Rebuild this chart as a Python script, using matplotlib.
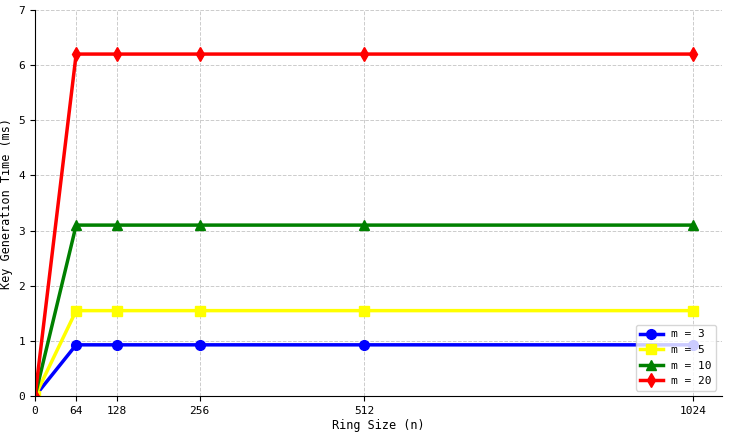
import numpy as np
import matplotlib
matplotlib.use('Agg')
from matplotlib import pyplot as plt

plt.rcParams['font.family'] = ['DejaVu Sans Mono']

# Ring sizes and key generation times (ms)
ring_sizes = [0, 64, 128, 256, 512, 1024]
time_m3 = [0, 0.93, 0.93, 0.93, 0.93, 0.93]
time_m5 = [0, 1.55, 1.55, 1.55, 1.55, 1.55]
time_m10 = [0, 3.1, 3.1, 3.1, 3.1, 3.1]
time_m20 = [0, 6.2, 6.2, 6.2, 6.2, 6.2]

series = [
    ('m = 3', time_m3, 'blue', 'o'),
    ('m = 5', time_m5, 'yellow', 's'),
    ('m = 10', time_m10, 'green', '^'),
    ('m = 20', time_m20, 'red', 'd'),
]

fig = plt.figure(figsize=(7.3, 4.32), dpi=100)
ax = fig.add_axes([0.048, 0.083, 0.941, 0.894])

for label, vals, col, mk in series:
    ax.plot(ring_sizes, vals, color=col, marker=mk, markersize=7, linewidth=2.5, label=label)

ax.set_xlim(0, 1069)
ax.set_ylim(0, 7)
ax.set_xticks(ring_sizes)
ax.set_yticks(range(8))
ax.tick_params(labelsize=8)
ax.set_xlabel('Ring Size (n)', fontsize=8.5, labelpad=2)
ax.set_ylabel('Key Generation Time (ms)', fontsize=8.5)
ax.grid(True, linestyle='--', color='#cccccc', linewidth=0.7)
ax.spines['top'].set_visible(False)
ax.spines['right'].set_visible(False)
ax.legend(loc='lower right', fontsize=8)

fig.savefig('out.png', dpi=100)
